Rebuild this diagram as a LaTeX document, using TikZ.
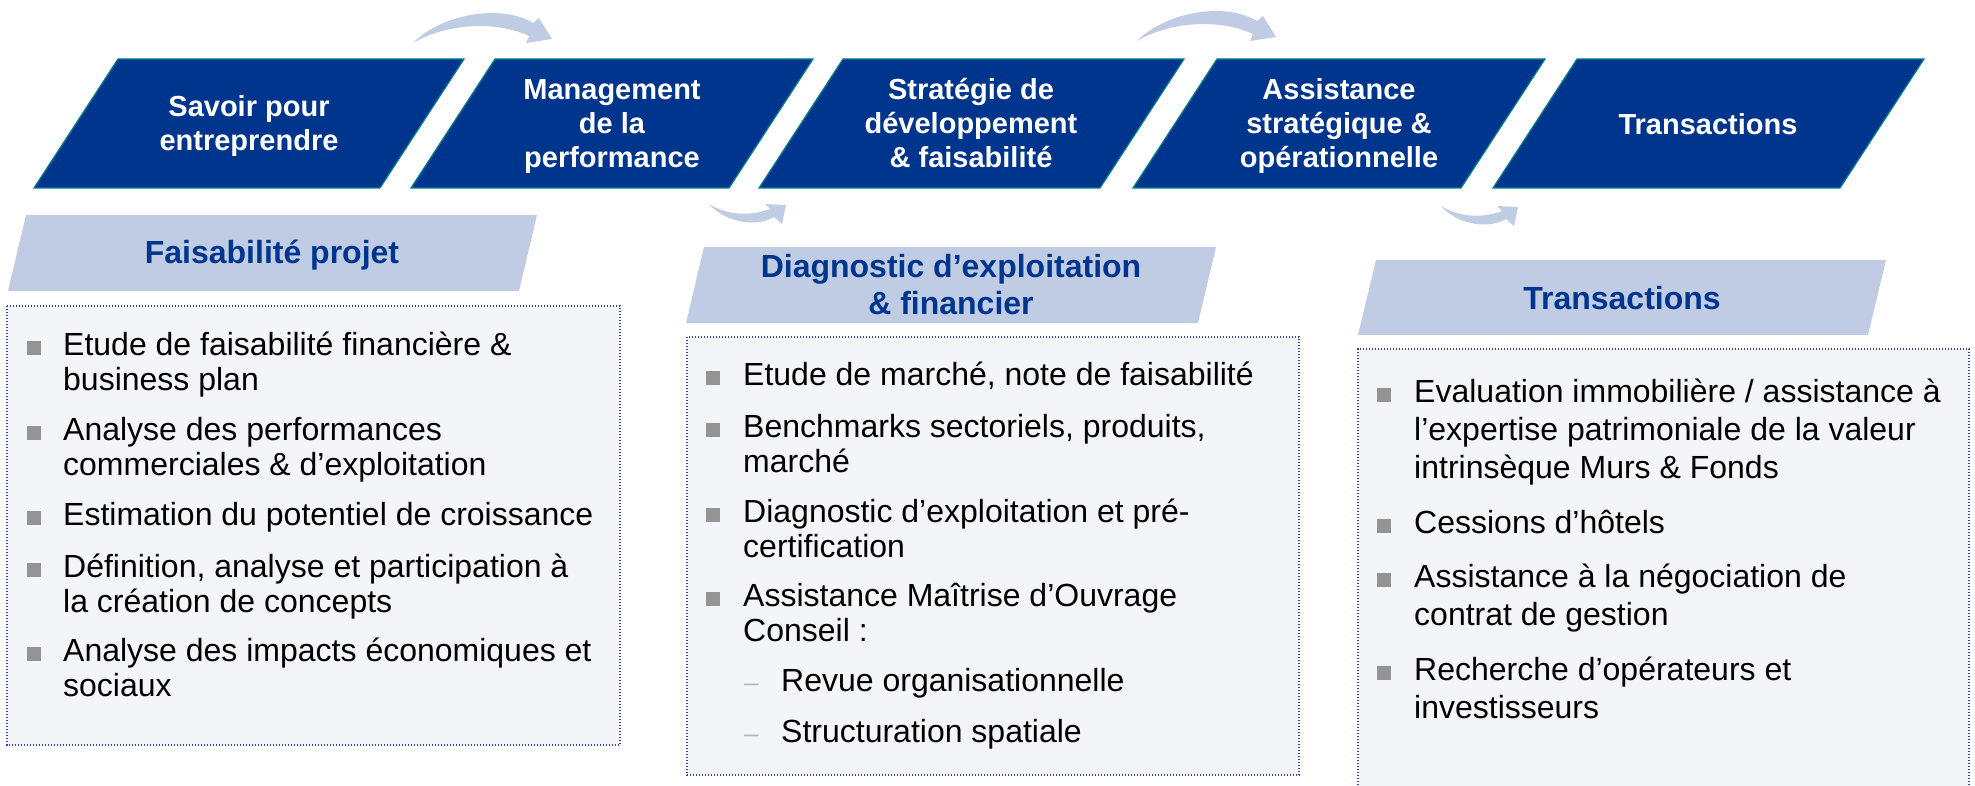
\documentclass[tikz,border=0pt]{standalone}
\usepackage{fontspec}
\setmainfont{Liberation Sans}
\definecolor{dkblue}{RGB}{0,53,141}
\definecolor{tealline}{RGB}{0,128,140}
\definecolor{ltblue}{RGB}{192,204,228}
\definecolor{bulletgray}{RGB}{148,148,148}
\definecolor{dashgray}{RGB}{185,185,185}
\definecolor{boxborder}{RGB}{40,70,170}
\definecolor{boxfill}{RGB}{243,245,249}
\tikzset{
  darkpara/.style={fill=dkblue, draw=tealline, line width=1.2pt},
  lightpara/.style={fill=ltblue},
  flowarrow/.style={fill=ltblue},
  listbox/.style={fill=boxfill, draw=boxborder, line width=1.4pt, dash pattern=on 1.4pt off 1.6pt},
  headtxt/.style={text=white, font=\fontsize{29}{34}\selectfont\bfseries, anchor=base, inner sep=0pt},
  sectxt/.style={text=dkblue, font=\fontsize{32}{37}\selectfont\bfseries, anchor=base, inner sep=0pt},
  bodytxt/.style={text=black, font=\fontsize{32}{37}\selectfont, anchor=base west, inner sep=0pt},
  subdash/.style={text=dashgray, font=\fontsize{26}{30}\selectfont, anchor=base west, inner sep=0pt},
  bulletsq/.style={fill=bulletgray, minimum width=14pt, minimum height=14pt, inner sep=0pt, outer sep=0pt, anchor=south west},
}
\begin{document}
\begin{tikzpicture}[x=1pt,y=-1pt]
\useasboundingbox (0,0) rectangle (1975,786);
\begin{scope}
\clip (0,0) rectangle (1975,786);

% ---- top row of dark parallelograms ----
\draw[darkpara] (34,188) -- (118,59) -- (464,59) -- (380,188) -- cycle;
\draw[darkpara] (411,188) -- (495,59) -- (813,59) -- (729,188) -- cycle;
\draw[darkpara] (759,188) -- (843,59) -- (1184,59) -- (1100,188) -- cycle;
\draw[darkpara] (1133,188) -- (1217,59) -- (1545,59) -- (1461,188) -- cycle;
\draw[darkpara] (1493,188) -- (1577,59) -- (1924,59) -- (1840,188) -- cycle;

\node[headtxt] (h1a) at (249,117) {Savoir pour};
\node[headtxt] (h1b) at (249,151) {entreprendre};
\node[headtxt] (h2a) at (612,100) {Management};
\node[headtxt] (h2b) at (612,134) {de la};
\node[headtxt] (h2c) at (612,168) {performance};
\node[headtxt] (h3a) at (971,100) {Stratégie de};
\node[headtxt] (h3b) at (971,134) {développement};
\node[headtxt] (h3c) at (971,168) {\& faisabilité};
\node[headtxt] (h4a) at (1339,100) {Assistance};
\node[headtxt] (h4b) at (1339,134) {stratégique \&};
\node[headtxt] (h4c) at (1339,168) {opérationnelle};
\node[headtxt] (h5a) at (1708,135) {Transactions};

% ---- curved arrows ----
\fill[flowarrow] (413,43) .. controls (440,15) and (500,3) .. (533,23) -- (539,18) -- (552,39) -- (526,43) -- (529,36) .. controls (495,20) and (445,24) .. (413,43) -- cycle;
\fill[flowarrow, shift={(724,-2)}] (413,43) .. controls (440,15) and (500,3) .. (533,23) -- (539,18) -- (552,39) -- (526,43) -- (529,36) .. controls (495,20) and (445,24) .. (413,43) -- cycle;
\fill[flowarrow] (709,204) .. controls (725,222) and (755,228) .. (774,217) -- (782,224) -- (786,205) -- (765,204) -- (770,209) .. controls (752,216) and (728,216) .. (709,204) -- cycle;
\fill[flowarrow, shift={(732,2)}] (709,204) .. controls (725,222) and (755,228) .. (774,217) -- (782,224) -- (786,205) -- (765,204) -- (770,209) .. controls (752,216) and (728,216) .. (709,204) -- cycle;

% ---- section headers ----
\fill[lightpara] (8,291) -- (26,215) -- (537,215) -- (519,291) -- cycle;
\node[sectxt] (sa) at (272,264) {Faisabilité projet};
\fill[lightpara] (686,323) -- (704,247) -- (1216,247) -- (1198,323) -- cycle;
\node[sectxt] (sb1) at (951,278) {Diagnostic d’exploitation};
\node[sectxt] (sb2) at (951,314) {\& financier};
\fill[lightpara] (1358,335) -- (1376,260) -- (1886,260) -- (1868,335) -- cycle;
\node[sectxt] (sc) at (1622,309) {Transactions};

% ---- list boxes ----
\draw[listbox] (7,306) rectangle (620,745);
\draw[listbox] (687,337) rectangle (1299,775);
\fill[boxfill] (1358,349) rectangle (1969,800);
\draw[listbox] (1358,800) -- (1358,349) -- (1969,349) -- (1969,800);

% box A
\node[bulletsq] (ba1) at (27,355) {};
\node[bodytxt] (ta1a) at (63,355) {Etude de faisabilité financière \&};
\node[bodytxt] (ta1b) at (63,390) {business plan};
\node[bulletsq] (ba2) at (27,440) {};
\node[bodytxt] (ta2a) at (63,440) {Analyse des performances};
\node[bodytxt] (ta2b) at (63,475) {commerciales \& d’exploitation};
\node[bulletsq] (ba3) at (27,525) {};
\node[bodytxt] (ta3a) at (63,525) {Estimation du potentiel de croissance};
\node[bulletsq] (ba4) at (27,577) {};
\node[bodytxt] (ta4a) at (63,577) {Définition, analyse et participation à};
\node[bodytxt] (ta4b) at (63,612) {la création de concepts};
\node[bulletsq] (ba5) at (27,661) {};
\node[bodytxt] (ta5a) at (63,661) {Analyse des impacts économiques et};
\node[bodytxt] (ta5b) at (63,696) {sociaux};

% box B
\node[bulletsq] (bb1) at (706,385) {};
\node[bodytxt] (tb1a) at (743,385) {Etude de marché, note de faisabilité};
\node[bulletsq] (bb2) at (706,437) {};
\node[bodytxt] (tb2a) at (743,437) {Benchmarks sectoriels, produits,};
\node[bodytxt] (tb2b) at (743,472) {marché};
\node[bulletsq] (bb3) at (706,522) {};
\node[bodytxt] (tb3a) at (743,522) {Diagnostic d’exploitation et pré-};
\node[bodytxt] (tb3b) at (743,557) {certification};
\node[bulletsq] (bb4) at (706,606) {};
\node[bodytxt] (tb4a) at (743,606) {Assistance Maîtrise d’Ouvrage};
\node[bodytxt] (tb4b) at (743,641) {Conseil :};
\node[subdash] (db1) at (744,691) {–};
\node[bodytxt] (tb5a) at (781,691) {Revue organisationnelle};
\node[subdash] (db2) at (744,742) {–};
\node[bodytxt] (tb6a) at (781,742) {Structuration spatiale};

% box C
\node[bulletsq] (bc1) at (1377,402) {};
\node[bodytxt] (tc1a) at (1414,402) {Evaluation immobilière / assistance à};
\node[bodytxt] (tc1b) at (1414,440) {l’expertise patrimoniale de la valeur};
\node[bodytxt] (tc1c) at (1414,478) {intrinsèque Murs \& Fonds};
\node[bulletsq] (bc2) at (1377,533) {};
\node[bodytxt] (tc2a) at (1414,533) {Cessions d’hôtels};
\node[bulletsq] (bc3) at (1377,587) {};
\node[bodytxt] (tc3a) at (1414,587) {Assistance à la négociation de};
\node[bodytxt] (tc3b) at (1414,625) {contrat de gestion};
\node[bulletsq] (bc4) at (1377,680) {};
\node[bodytxt] (tc4a) at (1414,680) {Recherche d’opérateurs et};
\node[bodytxt] (tc4b) at (1414,718) {investisseurs};
\end{scope}
\end{tikzpicture}
\end{document}
